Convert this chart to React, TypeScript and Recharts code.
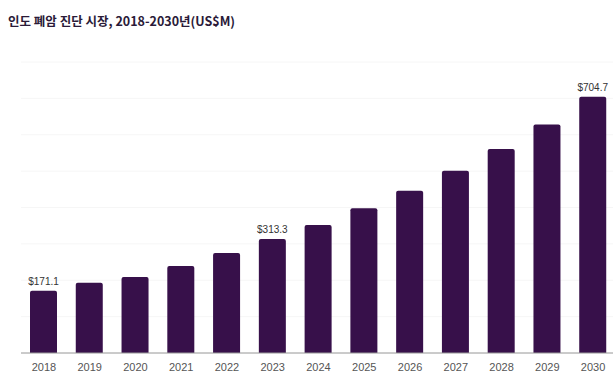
import { BarChart, Bar, XAxis, YAxis, CartesianGrid, LabelList } from 'recharts';

const years = ['2018', '2019', '2020', '2021', '2022', '2023', '2024', '2025', '2026', '2027', '2028', '2029', '2030'];
const marketSize = [171.1, 193, 209, 239, 275, 313.3, 352, 398, 446, 501, 561, 628, 704.7];
const labeledYears = ['2018', '2023', '2030'];
const yTicks = [0, 100, 200, 300, 400, 500, 600, 700, 800];

const data = years.map((year, i) => ({ year, value: marketSize[i] }));

const renderLabel = (props: any) => {
  const { x, y, width, index } = props;
  if (!labeledYears.includes(years[index])) return null;
  return (
    <text
      x={x + width / 2}
      y={y - 6}
      textAnchor="middle"
      fontSize={10}
      fill="#333"
      fontFamily="'Liberation Sans', Arial, sans-serif"
    >
      ${marketSize[index].toFixed(1)}
    </text>
  );
};

export default function App() {
  return (
    <div style={{ position: 'absolute', left: 0, top: 0, width: 613, height: 381, background: '#fff' }}>
      <div
        style={{
          position: 'absolute',
          left: 8,
          top: 11,
          fontFamily: "'Noto Sans CJK KR', 'Noto Sans', sans-serif",
          fontWeight: 700,
          fontSize: 12.5,
          color: '#2a1a38',
          zIndex: 1,
        }}
      >
        인도 폐암 진단 시장, 2018-2030년(US$M)
      </div>
      <BarChart
        width={613}
        height={381}
        data={data}
        margin={{ top: 62, right: -3, bottom: 0, left: 21 }}
        barSize={27}
      >
        <CartesianGrid vertical={false} stroke="#f6f6f6" />
        <YAxis hide domain={[0, 800]} ticks={yTicks} />
        <XAxis
          dataKey="year"
          height={28}
          tickLine={false}
          axisLine={{ stroke: '#9a9a9a' }}
          tick={{ fontSize: 11, fill: '#555', fontFamily: "'Liberation Sans', Arial, sans-serif", dy: 2 }}
          interval={0}
        />
        <Bar dataKey="value" fill="#37104a" radius={[2, 2, 0, 0]} isAnimationActive={false}>
          <LabelList dataKey="value" content={renderLabel} />
        </Bar>
      </BarChart>
    </div>
  );
}
